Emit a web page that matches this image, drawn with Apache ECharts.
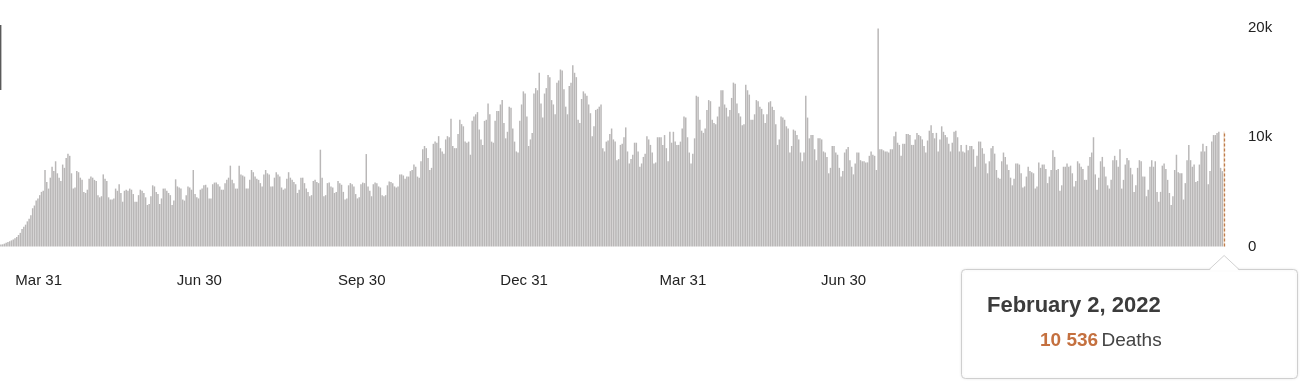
<!DOCTYPE html>
<html>
<head>
<meta charset="utf-8">
<script src="https://cdn.jsdelivr.net/npm/echarts@6.0.0/dist/echarts.min.js"></script>
<style>
  html, body { margin: 0; padding: 0; background: #ffffff; }
  #chart { width: 1300px; height: 382px; }
</style>
</head>
<body>
<div id="chart"></div>
<script>
// ---- DATA ----
const START_DATE = '2020-03-11';
const TICK_DATES = ['2020-03-31', '2020-06-30', '2020-09-30', '2020-12-31',
                    '2021-03-31', '2021-06-30', '2021-09-30', '2021-12-31'];
const Y_TICK_LABELS = { 0: '0', 10000: '10k', 20000: '20k' };
const SERIES_NAME = 'Deaths';

// daily deaths, Mar 11 2020 - Jul 4 2020
const deathsSpring2020 = [
  180,200,260,350,420,480,560,650,750,880,
  1050,1250,1600,1800,2000,2300,2550,2850,3500,3750,
  4200,4400,4700,5000,5100,7000,5900,5300,6300,7300,
  6900,7800,6700,6300,6000,7500,7200,8100,8500,8300,
  6700,5300,5400,6900,6800,6300,6100,5000,4900,5200,
  6200,6400,6300,6100,6000,4700,4500,4600,6600,6200,
  6000,4500,4300,4300,4400,5300,5100,5700,4900,4100,
  5100,5200,5100,5300,5200,4800,4100,4100,4700,5200,
  5100,4900,4500,3800,3900,4600,5600,5500,5000,4800,
  3900,4400,5300,5300,5100,4900,4700,3800,4200,6150,
  5500,5400,5300,4300,4200,4700,5500,5400,5200,7000,
  4800,4500,4400,5200,5300,5600
];
// Jul 5 2020 - Oct 28 2020
const deathsSummer2020 = [
  5650,5400,4400,4400,5700,5850,5850,5700,5500,5200,
  5200,5800,6100,6300,7400,6100,5800,5300,5300,7400,
  6600,6500,6400,5300,5300,6100,7000,6800,6400,6200,
  6100,5800,5500,6600,7000,6700,6600,5500,5500,6300,
  6800,6600,6400,5400,5200,5300,6200,6800,6300,6100,
  5900,5700,4900,5200,6300,6300,5800,5300,5000,4600,
  4700,6000,6100,5900,5800,8860,6300,4600,4700,5800,
  5850,5500,5400,4900,5000,6000,5800,5650,5000,4300,
  4400,5600,5800,5700,5500,4800,4400,4500,5700,5850,
  5800,8460,5500,5100,4600,5700,5850,5800,5500,5400,
  4700,4600,4700,5600,5950,5900,5800,5500,5400,5500,
  6600,6600,6500,6200,6400,6400
];
// Oct 29 2020 - Feb 21 2021
const deathsWinter2020 = [
  6900,7000,7500,7300,6400,6300,7800,8900,9200,9000,
  8100,7000,7200,9400,9600,9500,10100,9000,8700,8500,
  9800,10100,10000,11700,9200,9000,9000,10300,11600,11200,
  11000,9600,9500,9600,8400,11500,11900,12100,12300,10700,
  9800,9300,11500,11600,13100,12100,9600,9500,11500,12400,
  12400,13000,13400,11300,9900,10500,12800,12700,10800,9600,
  8700,8600,11500,13000,14200,14000,11900,9200,9800,10400,
  14000,14500,14300,15900,13100,11800,14000,14500,15700,15500,
  13400,13000,12100,15000,15200,16200,16100,14400,12800,12100,
  14700,15000,16600,15900,15500,11600,11300,13500,14200,14000,
  13800,13000,12200,10100,11000,12500,12600,12800,13000,9000,
  8700,9600,9700,10300,10800,9800
];
// Feb 22 2021 - Jun 17 2021
const deathsSpring2021 = [
  9600,7900,8000,9300,9400,10000,10900,8700,7600,8000,
  8400,9500,9500,8700,7300,7600,8200,8500,10100,9800,
  9300,8600,7600,7700,10000,10000,10000,9300,10200,9000,
  7800,10500,9500,10500,9600,9300,9300,9600,10800,11900,
  11800,10000,8600,7600,8500,9900,13800,13700,11600,10600,
  10400,10800,12500,13400,13300,11600,11300,11200,11900,12800,
  14300,14300,13000,12700,11900,12500,13600,15000,14900,13100,
  12200,11900,11100,11200,14800,14300,13900,11600,11600,12100,
  13400,13300,12800,12600,12100,11300,12100,13200,13300,12800,
  12500,11200,9300,9800,11900,11800,11600,11000,10800,8600,
  9200,10700,10600,10200,9800,8600,7800,8600,13800,11800,
  9900,10200,10200,8900,7900,9900
];
// Jun 18 2021 - Oct 12 2021
const deathsSummer2021 = [
  9900,9800,8700,8600,8200,6700,7200,9200,9200,8600,
  8400,7200,6400,6900,8600,8900,9100,7900,7300,6600,
  7600,8600,8600,7900,7800,7800,7700,7700,8300,8700,
  8400,8300,7000,19950,8900,8900,8800,8700,8700,8600,
  8900,8900,10100,10500,9500,9300,8300,9400,9400,10300,
  10300,10200,9300,9300,9800,10400,10200,10100,9800,9200,
  8600,9700,10600,11100,10400,9900,10400,8700,9800,11000,
  10500,10200,10000,9400,8700,9500,10500,10600,10000,8700,
  9300,8700,8600,9300,8800,9200,9200,8900,7300,8300,
  9600,9600,9000,8500,7600,6700,7800,9000,9200,8500,
  7000,6300,6200,7800,8600,8200,7500,7000,6300,5600,
  6200,7600,7600,7500,6700,5400
];
// Oct 13 2021 - Feb 2 2022
const deathsWinter2021 = [
  5500,6400,7300,6900,6800,6700,5300,5500,7700,7200,
  7500,7500,7100,5800,6400,7000,8800,8200,7000,7100,
  5100,5600,7300,7300,7600,7300,7400,6700,5500,6000,
  7800,7600,7300,7100,6100,6100,7400,8200,8600,10000,
  6600,5200,6300,7800,8200,7300,6400,5600,5300,6100,
  7900,8300,7900,7300,8900,5300,6100,7500,8100,7900,
  7200,6600,5000,5600,7200,7900,7800,6400,6400,4600,
  5200,7300,7900,7300,7800,5000,4100,5000,7400,7600,
  7100,6100,4900,3800,4600,7000,8400,6800,6700,6700,
  4300,5800,7900,9300,7900,7300,7500,5900,6000,7500,
  8700,9400,8700,9200,5700,6900,9600,10200,10200,10400,
  10500,7200,6900,10536
];

// ---- BUILD ----
const values = [].concat(deathsSpring2020, deathsSummer2020, deathsWinter2020,
                         deathsSpring2021, deathsSummer2021, deathsWinter2021);

function pad(n) { return (n < 10 ? '0' : '') + n; }
const categories = [];
{
  const d = new Date(START_DATE + 'T12:00:00Z');
  for (let i = 0; i < values.length; i++) {
    categories.push(d.getUTCFullYear() + '-' + pad(d.getUTCMonth() + 1) + '-' + pad(d.getUTCDate()));
    d.setUTCDate(d.getUTCDate() + 1);
  }
}
const MONTHS_SHORT = ['Jan','Feb','Mar','Apr','May','Jun','Jul','Aug','Sep','Oct','Nov','Dec'];
const MONTHS_LONG = ['January','February','March','April','May','June','July','August',
                     'September','October','November','December'];
function shortLabel(s) {
  const p = s.split('-');
  return MONTHS_SHORT[+p[1] - 1] + ' ' + (+p[2]);
}
function longLabel(s) {
  const p = s.split('-');
  return MONTHS_LONG[+p[1] - 1] + ' ' + (+p[2]) + ', ' + p[0];
}
function spaced(n) {
  return String(n).replace(/\B(?=(\d{3})+(?!\d))/g, ' ');
}

const lastIdx = values.length - 1;
const lastCat = categories[lastIdx];
const lastVal = values[lastIdx];

const barData = values.map(function (v, i) {
  if (i === lastIdx) {
    return { value: v, itemStyle: { color: '#f3e2d3' } };
  }
  return v;
});

const FONT = '"Liberation Sans", Arial, Helvetica, sans-serif';

const chart = echarts.init(document.getElementById('chart'), null, { renderer: 'canvas' });
chart.setOption({
  animation: false,
  backgroundColor: '#ffffff',
  grid: { left: 0, right: 75, top: 28, bottom: 135.5, containLabel: false },
  xAxis: {
    type: 'category',
    data: categories,
    boundaryGap: true,
    axisLine: { show: false },
    axisTick: { show: false },
    splitLine: { show: false },
    axisLabel: {
      interval: function (idx, val) { return TICK_DATES.indexOf(val) !== -1; },
      formatter: function (val) { return shortLabel(val); },
      margin: 27,
      fontSize: 15,
      fontFamily: FONT,
      color: '#222222',
      padding: [0, 0, 0, 5]
    }
  },
  yAxis: {
    type: 'value',
    position: 'right',
    min: 0,
    max: 20000,
    interval: 10000,
    axisLine: { show: false },
    axisTick: { show: false },
    splitLine: { show: false },
    axisLabel: {
      margin: 23,
      fontSize: 15,
      fontFamily: FONT,
      color: '#222222',
      formatter: function (v) { return Y_TICK_LABELS[v] !== undefined ? Y_TICK_LABELS[v] : ''; }
    }
  },
  series: [{
    name: SERIES_NAME,
    type: 'bar',
    data: barData,
    barCategoryGap: '16%',
    itemStyle: { color: '#b9b7b7' },
    silent: true,
    markLine: {
      silent: true,
      symbol: ['none', 'none'],
      label: { show: false },
      lineStyle: { color: '#bf7d4c', width: 1.3, type: [3, 2] },
      data: [[{ xAxis: lastCat, yAxis: 0 }, { xAxis: lastCat, yAxis: lastVal }]]
    }
  }]
});

// tooltip-like callout attached to the last bar
const ax = chart.convertToPixel({ xAxisIndex: 0 }, lastCat);
const boxX = 961.5, boxY = 269.5, boxW = 336, boxH = 109;
chart.setOption({
  graphic: [
    {
      type: 'line', z: 100, silent: true,
      shape: { x1: 0.7, y1: 25, x2: 0.7, y2: 90 },
      style: { stroke: '#5a5a5a', lineWidth: 1.4 }
    },
    {
      type: 'rect', z: 100, silent: true,
      shape: { x: boxX, y: boxY, width: boxW, height: boxH, r: 4 },
      style: { fill: '#ffffff', stroke: '#cfcfcf', lineWidth: 1,
               shadowBlur: 3, shadowColor: 'rgba(0,0,0,0.08)' }
    },
    {
      type: 'polygon', z: 101, silent: true,
      shape: { points: [[ax - 15, boxY + 1], [ax, boxY - 14], [ax + 15, boxY + 1]] },
      style: { fill: '#ffffff' }
    },
    {
      type: 'polyline', z: 102, silent: true,
      shape: { points: [[ax - 15, boxY], [ax, boxY - 14], [ax + 15, boxY]] },
      style: { stroke: '#d2d2d2', lineWidth: 1, fill: null }
    },
    {
      type: 'text', z: 103, silent: true,
      x: 987, y: 306,
      style: {
        text: longLabel(lastCat),
        font: 'bold 22px ' + FONT,
        fill: '#3c3c3c',
        verticalAlign: 'middle'
      }
    },
    {
      type: 'text', z: 103, silent: true,
      x: 1040, y: 341,
      style: {
        text: '{n|' + spaced(lastVal) + '} {d|' + SERIES_NAME + '}',
        verticalAlign: 'middle',
        rich: {
          n: { fontFamily: FONT, fontSize: 19, fontWeight: 'bold', fill: '#c4703f' },
          d: { fontFamily: FONT, fontSize: 19, fill: '#444444' }
        }
      }
    }
  ]
});
</script>
</body>
</html>
